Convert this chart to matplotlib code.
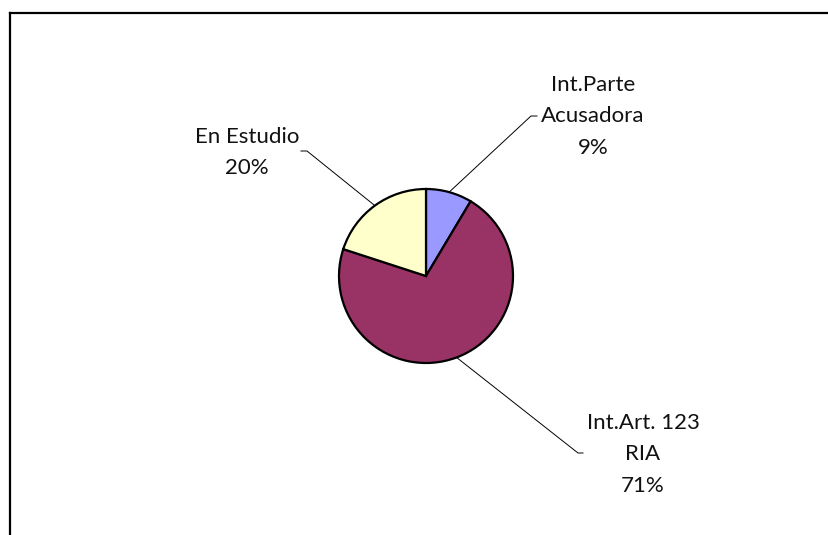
import numpy as np
import matplotlib
matplotlib.use("Agg")
import matplotlib.pyplot as plt
from matplotlib.lines import Line2D

# datos del gráfico
categorias = [["Int.Parte", "Acusadora"], ["Int.Art. 123", "RIA"], ["En Estudio"]]
valores = [3, 25, 7]
colores = ["#9999FF", "#993366", "#FFFFCC"]

W, H = 829, 535
fig = plt.figure(figsize=(W / 100, H / 100), dpi=100)
ax = fig.add_axes([0, 0, 1, 1])

cx, cy, r = 426, H - 276, 87
wedges, _ = ax.pie(valores, colors=colores, startangle=90, counterclock=False,
                   center=(cx, cy), radius=r, frame=True,
                   wedgeprops=dict(edgecolor="black", linewidth=1.6))
ax.set_xlim(0, W)
ax.set_ylim(0, H)
ax.set_aspect("equal")
ax.axis("off")

total = sum(valores)
# centro x, linea base de la primera linea, extremo de la guia, tick horizontal
etiquetas = [
    dict(x=593, y=91, fin=(531, 116), tick=6),
    dict(x=643, y=429, fin=(578, 453), tick=5),
    dict(x=247, y=143, fin=(307, 151), tick=-6),
]
paso = 31.5

for w, cat, v, e in zip(wedges, categorias, valores, etiquetas):
    ang = np.deg2rad((w.theta1 + w.theta2) / 2)
    x0 = cx + r * np.cos(ang)
    y0 = cy + r * np.sin(ang)
    fx, fy = e["fin"][0], H - e["fin"][1]
    ax.plot([x0, fx, fx + e["tick"]], [y0, fy, fy], color="black", lw=0.7)
    pct = round(100 * v / total)
    lineas = cat + [f"{pct}%"]
    for i, t in enumerate(lineas):
        ax.text(e["x"], H - (e["y"] + i * paso), t, ha="center", va="baseline",
                fontsize=16, family="Lato", color="#111111")

# marco (solo arriba e izquierda)
fig.add_artist(Line2D([10 / W, 1], [1 - 13 / H, 1 - 13 / H], color="black", lw=1.6,
                      transform=fig.transFigure))
fig.add_artist(Line2D([10 / W, 10 / W], [0, 1 - 13 / H], color="black", lw=1.6,
                      transform=fig.transFigure))

fig.savefig("out.png", dpi=100)
